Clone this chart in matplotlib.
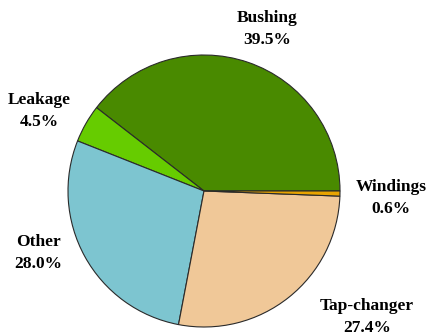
import matplotlib
matplotlib.use("Agg")
from matplotlib import pyplot as plt

labels = ["Bushing", "Leakage", "Other", "Tap-changer", "Windings"]
shares = [39.5, 4.5, 28.0, 27.4, 0.6]
colors = ["#498a00", "#66cc00", "#7dc5d0", "#f0c898", "#e8a400"]

# label anchor points in pixel space (x, y from the top)
label_pos = [(267, 29), (39, 111), (38, 253), (367, 317), (391, 198)]

fig = plt.figure(figsize=(4.26, 3.36), dpi=100)
ax = fig.add_axes([0, 0, 1, 1])

ax.pie(shares, colors=colors, startangle=0, counterclock=True,
       center=(204, 336 - 191), radius=136, frame=True,
       wedgeprops=dict(edgecolor="#2a2a2a", linewidth=0.8))
ax.set_xlim(0, 426)
ax.set_ylim(0, 336)
ax.axis("off")

for name, val, (x, y) in zip(labels, shares, label_pos):
    ax.text(x, 336 - y, f"{name}\n{val:.1f}%", ha="center", va="center",
            fontfamily="Liberation Serif", fontweight="bold", fontsize=12.5,
            linespacing=1.5)

fig.savefig("out.png", dpi=100)
